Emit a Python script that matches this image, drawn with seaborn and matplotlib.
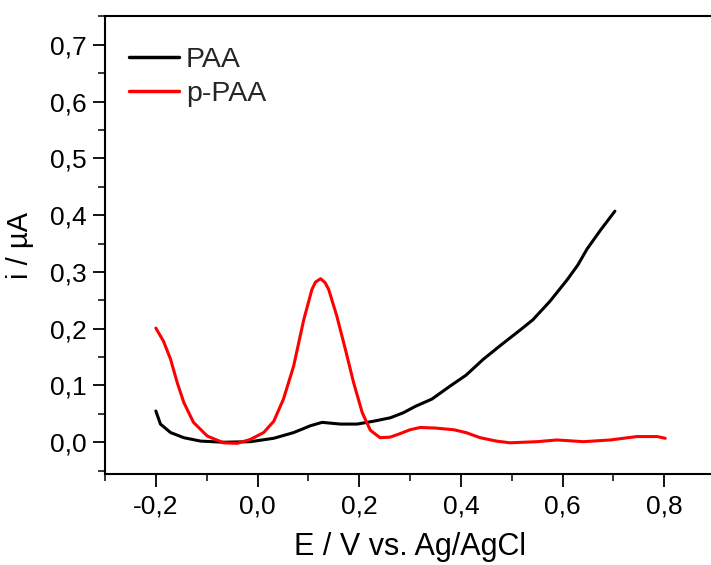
import numpy as np
import pandas as pd
import matplotlib
matplotlib.use("Agg")
import matplotlib.pyplot as plt
import seaborn as sns
from matplotlib.ticker import MultipleLocator, FuncFormatter

# ---- data ----
paa_x = [-0.20, -0.191, -0.171, -0.145, -0.112, -0.067, -0.014, 0.032, 0.071, 0.104,
         0.127, 0.163, 0.196, 0.228, 0.261, 0.287, 0.31, 0.343, 0.379, 0.41, 0.444, 0.48,
         0.52, 0.542, 0.575, 0.609, 0.63, 0.648, 0.675, 0.703]
paa_y = [0.055, 0.032, 0.017, 0.008, 0.002, 0.000, 0.001, 0.007, 0.017, 0.029,
         0.035, 0.032, 0.032, 0.037, 0.043, 0.052, 0.063, 0.076, 0.099, 0.118, 0.146, 0.172,
         0.200, 0.216, 0.248, 0.286, 0.312, 0.340, 0.374, 0.407]

ppaa_x = [-0.20, -0.185, -0.171, -0.158, -0.145, -0.126, -0.099, -0.067, -0.040, -0.014,
          0.012, 0.032, 0.051, 0.071, 0.091, 0.107, 0.114, 0.124, 0.133, 0.140, 0.156, 0.173,
          0.189, 0.206, 0.222, 0.241, 0.261, 0.280, 0.300, 0.320, 0.350, 0.386, 0.410, 0.438,
          0.470, 0.497, 0.550, 0.589, 0.641, 0.694, 0.746, 0.786, 0.802]
ppaa_y = [0.201, 0.178, 0.146, 0.105, 0.070, 0.035, 0.011, -0.001, -0.002, 0.005,
          0.017, 0.037, 0.076, 0.134, 0.216, 0.269, 0.282, 0.288, 0.281, 0.269, 0.222, 0.163,
          0.105, 0.052, 0.021, 0.008, 0.009, 0.015, 0.022, 0.026, 0.025, 0.022, 0.017, 0.008,
          0.002, -0.001, 0.001, 0.004, 0.001, 0.004, 0.010, 0.010, 0.007]

series_names = ["PAA", "p-PAA"]
colors = {"PAA": "black", "p-PAA": "red"}

df = pd.concat([
    pd.DataFrame({"E": paa_x, "i": paa_y, "sample": series_names[0]}),
    pd.DataFrame({"E": ppaa_x, "i": ppaa_y, "sample": series_names[1]}),
], ignore_index=True)

sns.set_theme(style="white")
plt.rcParams["font.family"] = ["Liberation Sans", "DejaVu Sans"]

fig = plt.figure(figsize=(7.11, 5.65), dpi=100)
ax = fig.add_axes([0.1477, 0.161, 0.858, 0.810])

sns.lineplot(data=df, x="E", y="i", hue="sample", palette=colors, sort=False,
             estimator=None, linewidth=2.2, ax=ax)
for ln in ax.get_lines():
    ln.set_solid_joinstyle("round")
    ln.set_solid_capstyle("round")

ax.set_xlim(-0.3, 0.9)
ax.set_ylim(-0.056, 0.75)

ax.xaxis.set_minor_locator(MultipleLocator(0.1))
ax.yaxis.set_minor_locator(MultipleLocator(0.05))

fmt = FuncFormatter(lambda v, p: f"{v:.1f}".replace(".", ",").replace("-0,0", "0,0"))
ax.set_xticks([t for t in np.arange(-0.2, 0.81, 0.2)])
ax.set_yticks([t for t in np.arange(0.0, 0.71, 0.1)])
ax.xaxis.set_major_formatter(fmt)
ax.yaxis.set_major_formatter(fmt)

for s in ["left", "bottom", "top"]:
    ax.spines[s].set_visible(True)
    ax.spines[s].set_color("black")
    ax.spines[s].set_linewidth(1.5)
ax.spines["right"].set_visible(False)

ax.tick_params(axis="both", which="major", direction="out", length=9, width=1.3,
               labelsize=19, colors="black", bottom=True, left=True, top=False, right=False)
ax.tick_params(axis="both", which="minor", direction="out", length=5, width=1.3,
               bottom=True, left=True, top=False, right=False)
ax.tick_params(axis="x", pad=5.5)
ax.tick_params(axis="y", pad=4)

ax.set_xlabel("E / V vs. Ag/AgCl", fontsize=22, labelpad=10, color="black")
ax.set_ylabel("i / µA", fontsize=21, labelpad=12, color="black")

leg = ax.legend(loc="upper left", frameon=False, fontsize=20.5, handlelength=1.75,
                handletextpad=0.25, borderaxespad=0, borderpad=0, labelspacing=0.29,
                bbox_to_anchor=(0.039, 0.934))
for line in leg.get_lines():
    line.set_linewidth(2.5)

fig.savefig("out.png", dpi=100)
